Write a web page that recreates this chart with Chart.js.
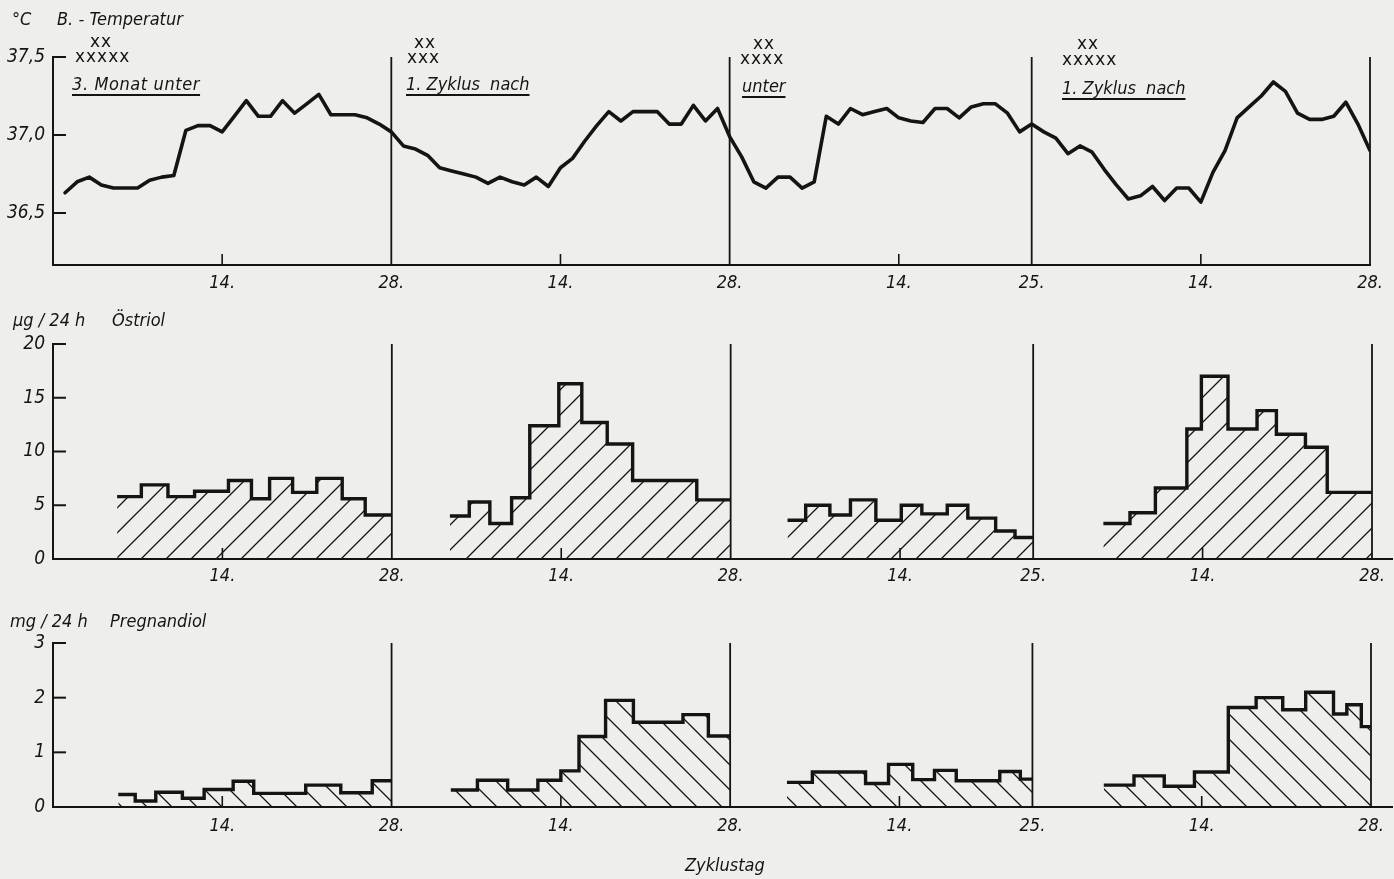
<!DOCTYPE html>
<html>
<head>
<meta charset="utf-8">
<script src="https://cdn.jsdelivr.net/npm/chart.js@4.4.1/dist/chart.umd.min.js"></script>
<style>
body{margin:0;background:#eeeeeb;width:1394px;height:879px;overflow:hidden;position:relative;color:#141414;
  font-family:'DejaVu Sans Condensed','DejaVu Sans',sans-serif}
canvas{position:absolute;left:0}
.t{position:absolute;font-style:italic;font-size:18px;line-height:18px;white-space:pre}
.x{position:absolute;font-size:17px;line-height:17px;letter-spacing:1px;font-family:'DejaVu Sans',sans-serif}
.u{text-decoration:underline;text-decoration-thickness:1.6px;text-underline-offset:4px}
</style>
</head>
<body>
<canvas id="temp" width="1394" height="300" style="top:0"></canvas>
<canvas id="oest" width="1394" height="310" style="top:300px"></canvas>
<canvas id="preg" width="1394" height="269" style="top:610px"></canvas>

<div class="t" style="left:12px;top:10px">°C</div>
<div class="t" style="left:57px;top:10px">B. - Temperatur</div>
<div class="t" style="left:13px;top:311px">µg / 24 h</div>
<div class="t" style="left:112px;top:311px">Östriol</div>
<div class="t" style="left:10px;top:612px">mg / 24 h</div>
<div class="t" style="left:110px;top:612px">Pregnandiol</div>
<div class="t" style="left:685px;top:856px">Zyklustag</div>

<div class="x" style="left:90px;top:33px">xx</div>
<div class="x" style="left:75px;top:48px">xxxxx</div>
<div class="t u" style="left:72px;top:75px;letter-spacing:0.6px">3. Monat unter</div>

<div class="x" style="left:414px;top:34px">xx</div>
<div class="x" style="left:407px;top:49px">xxx</div>
<div class="t u" style="left:406px;top:75px">1. Zyklus  nach</div>

<div class="x" style="left:753px;top:35px">xx</div>
<div class="x" style="left:740px;top:50px">xxxx</div>
<div class="t u" style="left:742px;top:77px">unter</div>

<div class="x" style="left:1077px;top:35px">xx</div>
<div class="x" style="left:1062px;top:51px">xxxxx</div>
<div class="t u" style="left:1062px;top:79px">1. Zyklus  nach</div>

<script>
// cycle lengths in days and the day ticks printed under each cycle
var cycleLengths = [28, 28, 25, 28];
var cycleTickDays = [14, 28, 14, 28, 14, 25, 14, 28];

// basal body temperature, one value per cycle day
var tempCycle1 = [36.63, 36.70, 36.73, 36.68, 36.66, 36.66, 36.66, 36.71, 36.73, 36.74, 37.03, 37.06, 37.06, 37.02,
                  37.12, 37.22, 37.12, 37.12, 37.22, 37.14, 37.20, 37.26, 37.13, 37.13, 37.13, 37.11, 37.07, 37.02];
var tempCycle2 = [36.93, 36.91, 36.87, 36.79, 36.77, 36.75, 36.73, 36.69, 36.73, 36.70, 36.68, 36.73, 36.67, 36.79,
                  36.85, 36.96, 37.06, 37.15, 37.09, 37.15, 37.15, 37.15, 37.07, 37.07, 37.19, 37.09, 37.17, 36.99];
var tempCycle3 = [36.86, 36.70, 36.66, 36.73, 36.73, 36.66, 36.70, 37.12, 37.07, 37.17, 37.13, 37.15, 37.17, 37.11,
                  37.09, 37.08, 37.17, 37.17, 37.11, 37.18, 37.20, 37.20, 37.14, 37.02, 37.07];
var tempCycle4 = [37.02, 36.98, 36.88, 36.93, 36.89, 36.78, 36.68, 36.59, 36.61, 36.67, 36.58, 36.66, 36.66, 36.57,
                  36.76, 36.90, 37.11, 37.18, 37.25, 37.34, 37.28, 37.14, 37.10, 37.10, 37.12, 37.21, 37.07, 36.90];
var tempTicks = [36.5, 37.0, 37.5];

// Östriol (µg/24 h): collection period edges (cycle day) and values
var oestEdges1 = [5.3, 7.3, 9.5, 11.7, 14.5, 16.4, 17.9, 19.8, 21.8, 23.9, 25.8, 28];
var oestValues1 = [5.8, 6.9, 5.8, 6.3, 7.3, 5.6, 7.5, 6.2, 7.5, 5.6, 4.1];
var oestEdges2 = [4.8, 6.4, 8.1, 9.9, 11.4, 13.8, 15.7, 17.8, 19.9, 25.2, 28];
var oestValues2 = [4.0, 5.3, 3.3, 5.7, 12.4, 16.3, 12.7, 10.7, 7.3, 5.5];
var oestEdges3 = [4.7, 6.2, 8.2, 9.9, 12.0, 14.1, 15.8, 17.9, 19.6, 21.9, 23.5, 25];
var oestValues3 = [3.6, 5.0, 4.1, 5.5, 3.6, 5.0, 4.2, 5.0, 3.8, 2.6, 2.0];
var oestEdges4 = [5.8, 8.0, 10.1, 12.7, 13.9, 16.1, 18.5, 20.1, 22.5, 24.3, 28];
var oestValues4 = [3.3, 4.3, 6.6, 12.1, 17.0, 12.1, 13.8, 11.6, 10.4, 6.2];
var oestTicks = [0, 5, 10, 15, 20];

// Pregnandiol (mg/24 h)
var pregEdges1 = [5.4, 6.8, 8.5, 10.7, 12.5, 14.9, 16.6, 20.9, 23.8, 26.4, 28];
var pregValues1 = [0.23, 0.11, 0.27, 0.16, 0.32, 0.47, 0.25, 0.40, 0.26, 0.48];
var pregEdges2 = [4.9, 7.1, 9.6, 12.1, 14.0, 15.5, 17.7, 20.0, 24.1, 26.2, 28];
var pregValues2 = [0.31, 0.49, 0.31, 0.49, 0.66, 1.29, 1.95, 1.55, 1.69, 1.30];
var pregEdges3 = [4.7, 6.8, 11.2, 13.1, 15.1, 16.9, 18.7, 22.3, 24.0, 25];
var pregValues3 = [0.45, 0.64, 0.43, 0.78, 0.50, 0.67, 0.48, 0.65, 0.51];
var pregEdges4 = [5.9, 8.4, 10.9, 13.4, 16.2, 18.5, 20.7, 22.6, 24.9, 26.0, 27.2, 28];
var pregValues4 = [0.40, 0.57, 0.38, 0.64, 1.82, 2.00, 1.78, 2.10, 1.70, 1.87, 1.47];
var pregTicks = [0, 1, 2, 3];

var ink = '#141414';
var fontFamily = "'DejaVu Sans Condensed','DejaVu Sans',sans-serif";

var cycleStart = [];
var totalDays = 0;
cycleLengths.forEach(function (len) { cycleStart.push(totalDays); totalDays += len; });

var tickPositions = cycleTickDays.map(function (d, i) { return cycleStart[Math.floor(i / 2)] + d; });
var cycleEnds = cycleLengths.map(function (len, i) { return cycleStart[i] + len; });
var midTicks = tickPositions.filter(function (p, i) { return i % 2 == 0; });

// boundary lines, inward tick marks, baseline run-out past the last cycle
function decor(baseRunOut) {
    return {
        id: 'decor',
        beforeDatasetsDraw: function (chart) {
            var ctx = chart.ctx, a = chart.chartArea, x = chart.scales.x, y = chart.scales.y;
            ctx.save();
            ctx.strokeStyle = ink;
            ctx.lineCap = 'butt';
            ctx.lineWidth = 1.8;
            cycleEnds.forEach(function (d) {
                var px = x.getPixelForValue(d);
                ctx.beginPath(); ctx.moveTo(px, a.top); ctx.lineTo(px, a.bottom); ctx.stroke();
            });
            ctx.lineWidth = 1.6;
            midTicks.forEach(function (d) {
                var px = x.getPixelForValue(d);
                ctx.beginPath(); ctx.moveTo(px, a.bottom); ctx.lineTo(px, a.bottom - 11); ctx.stroke();
            });
            ctx.lineWidth = 2;
            y.ticks.forEach(function (t) {
                if (t.value == 0) return;
                var py = y.getPixelForValue(t.value);
                ctx.beginPath(); ctx.moveTo(a.left, py); ctx.lineTo(a.left + 13, py); ctx.stroke();
            });
            if (baseRunOut) {
                ctx.beginPath(); ctx.moveTo(a.right, a.bottom); ctx.lineTo(a.right + baseRunOut, a.bottom); ctx.stroke();
            }
            ctx.restore();
        }
    };
}

function hatch(canvasId, dir, size) {
    var c = document.createElement('canvas');
    c.width = size; c.height = size;
    var g = c.getContext('2d');
    g.strokeStyle = ink;
    g.lineWidth = 1.3;
    g.beginPath();
    if (dir > 0) {
        g.moveTo(0, size); g.lineTo(size, 0);
        g.moveTo(-3, 3); g.lineTo(3, -3);
        g.moveTo(size - 3, size + 3); g.lineTo(size + 3, size - 3);
    } else {
        g.moveTo(0, 0); g.lineTo(size, size);
        g.moveTo(size - 3, -3); g.lineTo(size + 3, 3);
        g.moveTo(-3, size - 3); g.lineTo(3, size + 3);
    }
    g.stroke();
    return document.getElementById(canvasId).getContext('2d').createPattern(c, 'repeat');
}

function xAxis(height, padding) {
    return {
        type: 'linear', min: 0, max: totalDays,
        afterBuildTicks: function (s) { s.ticks = tickPositions.map(function (v) { return {value: v}; }); },
        afterFit: function (s) { s.height = height; },
        ticks: {
            autoSkip: false, maxRotation: 0, padding: padding, color: ink,
            font: {family: fontFamily, size: 18, style: 'italic'},
            callback: function (v, i) { return cycleTickDays[i] + '.'; }
        },
        grid: {display: false, drawTicks: false},
        border: {display: true, color: ink, width: 2}
    };
}

function yAxis(min, max, tickValues, fmt) {
    return {
        type: 'linear', min: min, max: max,
        afterBuildTicks: function (s) { s.ticks = tickValues.map(function (v) { return {value: v}; }); },
        afterFit: function (s) { s.width = 53; },
        ticks: {
            padding: 8, color: ink,
            font: {family: fontFamily, size: 19, style: 'italic'},
            callback: fmt
        },
        grid: {display: false, drawTicks: false},
        border: {display: true, color: ink, width: 2}
    };
}

function baseOptions(padding, x, y) {
    return {
        responsive: false, animation: false, devicePixelRatio: 1,
        layout: {padding: padding},
        plugins: {legend: {display: false}, tooltip: {enabled: false}},
        elements: {point: {radius: 0}},
        scales: {x: x, y: y}
    };
}

function stepData(edges, values, c) {
    return edges.map(function (e, i) {
        return {x: cycleStart[c] + e, y: values[Math.min(i, values.length - 1)]};
    });
}

function stepDatasets(edgeSets, valueSets, pattern) {
    return edgeSets.map(function (edges, c) {
        return {
            data: stepData(edges, valueSets[c], c),
            stepped: 'before', fill: 'origin',
            borderColor: ink, borderWidth: 3.4, borderJoinStyle: 'miter', borderCapStyle: 'butt',
            backgroundColor: pattern
        };
    });
}

// temperature
var tempPoints = [tempCycle1, tempCycle2, tempCycle3, tempCycle4].reduce(function (acc, vals, c) {
    return acc.concat(vals.map(function (v, i) { return {x: cycleStart[c] + i + 1, y: v}; }));
}, []);

new Chart(document.getElementById('temp'), {
    type: 'line',
    data: {datasets: [{
        data: tempPoints, borderColor: ink, borderWidth: 3.6,
        borderJoinStyle: 'round', borderCapStyle: 'round', tension: 0, fill: false
    }]},
    options: baseOptions({top: 57, right: 24, left: 0, bottom: 0},
        xAxis(35, 8),
        yAxis(36.1667, 37.5, tempTicks, function (v) { return v.toFixed(1).replace('.', ','); })),
    plugins: [decor(0)]
});

new Chart(document.getElementById('oest'), {
    type: 'line',
    data: {datasets: stepDatasets([oestEdges1, oestEdges2, oestEdges3, oestEdges4],
        [oestValues1, oestValues2, oestValues3, oestValues4], hatch('oest', 1, 25))},
    options: baseOptions({top: 44, right: 22, left: 0, bottom: 0},
        xAxis(51, 7),
        yAxis(0, 20, oestTicks, function (v) { return String(v); })),
    plugins: [decor(21)]
});

new Chart(document.getElementById('preg'), {
    type: 'line',
    data: {datasets: stepDatasets([pregEdges1, pregEdges2, pregEdges3, pregEdges4],
        [pregValues1, pregValues2, pregValues3, pregValues4], hatch('preg', -1, 25))},
    options: baseOptions({top: 33, right: 23, left: 0, bottom: 0},
        xAxis(72, 9),
        yAxis(0, 3, pregTicks, function (v) { return String(v); })),
    plugins: [decor(22)]
});
</script>
</body>
</html>
